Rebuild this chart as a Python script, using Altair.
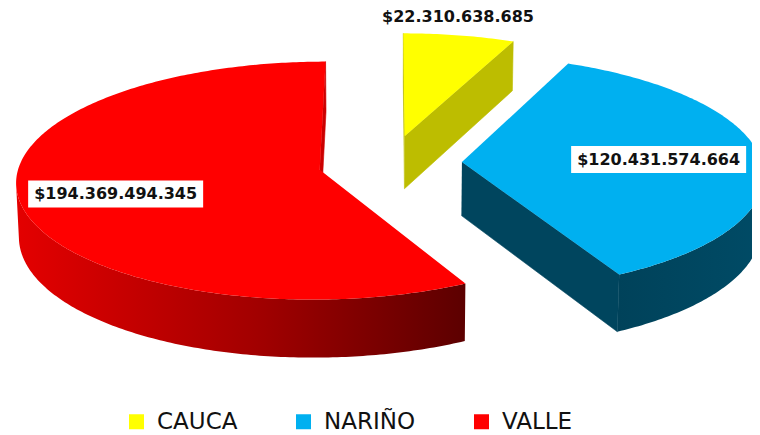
import altair as alt
import numpy as np
import pandas as pd

# ---------------- data ----------------
categories = ["CAUCA", "NARIÑO", "VALLE"]
values = [22310638685, 120431574664, 194369494345]

# ---------------- style ----------------
top_colors = ["#FFFF00", "#00B0F0", "#FF0000"]
face_colors = ["#BDBD00", "#00455E", "#CC0000"]
wall_stops = {
    "CAUCA": [(0, "#C4C400"), (1, "#A8A800")],
    "NARIÑO": [(0, "#00425A"), (1, "#004B66")],
    "VALLE": [(0, "#E40000"), (0.55, "#A00000"), (1, "#5C0000")],
}
label_pos = {"CAUCA": (1.195, 0.417), "NARIÑO": (0.658, 0.5), "VALLE": (0.69, 0.484)}
BOX_W, BOX_H = 175, 27

# 3D view parameters (perspective pie)
F = 3040.0
DIST = 10.13
PHI = np.radians(22.9)
OX, OY = 390.0, 163.0
EXPLODE = 0.24
THICK = 0.195
S, C = np.sin(PHI), np.cos(PHI)
CAM = np.array([0.0, DIST * S, DIST * C])


def project(X, Y, Z):
    dep = DIST - Y * S - Z * C
    return OX + F * X / dep, OY - F * (Y * C - Z * S) / dep


def rim(A, a, Y):
    return np.array([A[0] + np.sin(a), Y, A[2] - np.cos(a)])


frac = np.array(values, dtype=float) / float(sum(values))
ends = np.cumsum(frac) * 2 * np.pi
starts = ends - frac * 2 * np.pi

top_rows, face_rows, wall_dfs, lab_rows = [], [], {}, []
for k, cat in enumerate(categories):
    a1, a2 = starts[k], ends[k]
    b = (a1 + a2) / 2
    A = np.array([EXPLODE * np.sin(b), 0.0, -EXPLODE * np.cos(b)])
    n = max(16, int(np.degrees(a2 - a1) / 0.75))
    angs = np.linspace(a1, a2, n)

    # top face
    pts = [A.copy()] + [rim(A, a, 0.0) for a in angs]
    for i, P in enumerate(pts):
        sx, sy = project(*P)
        top_rows.append(dict(cat=cat, i=i, x=sx, y=sy))

    # outer curved wall (visible part only)
    vis = []
    for a in angs:
        P = rim(A, a, -THICK / 2)
        nrm = np.array([np.sin(a), 0.0, -np.cos(a)])
        vis.append(np.dot(CAM - P, nrm) > 0)
    va = angs[np.array(vis)]
    if len(va) > 1:
        wp = [rim(A, a, 0.0) for a in va] + [rim(A, a, -THICK) for a in va[::-1]]
        rows = []
        for i, P in enumerate(wp):
            sx, sy = project(*P)
            rows.append(dict(i=i, x=sx, y=sy))
        wall_dfs[cat] = pd.DataFrame(rows)

    # radial cut faces
    for name, a, nrm in [
        ("s", a1, np.array([-np.cos(a1), 0.0, -np.sin(a1)])),
        ("e", a2, np.array([np.cos(a2), 0.0, np.sin(a2)])),
    ]:
        mid = A + np.array([0.0, -THICK / 2, 0.0])
        if np.dot(CAM - mid, nrm) > 0:
            fp = [A.copy(), rim(A, a, 0.0), rim(A, a, -THICK), A + np.array([0.0, -THICK, 0.0])]
            for i, P in enumerate(fp):
                sx, sy = project(*P)
                face_rows.append(dict(poly=cat + name, shade=face_colors[k], i=i, x=sx, y=sy))

    # data label
    r, t = label_pos[cat]
    la = a1 + t * (a2 - a1)
    lx, ly = project(A[0] + r * np.sin(la), 0.0, A[2] - r * np.cos(la))
    txt = "$" + f"{values[k]:,}".replace(",", ".")
    lab_rows.append(dict(cat=cat, label=txt, lx=lx, ly=ly,
                         bx1=lx - BOX_W / 2, bx2=lx + BOX_W / 2,
                         by1=ly - BOX_H / 2, by2=ly + BOX_H / 2))

top_df = pd.DataFrame(top_rows)
face_df = pd.DataFrame(face_rows)
lab_df = pd.DataFrame(lab_rows)

xs = alt.Scale(domain=[8, 752], nice=False, zero=False)
ys = alt.Scale(domain=[8, 435], nice=False, zero=False, reverse=True)

layers = []
for cat, df in wall_dfs.items():
    grad = alt.LinearGradient(
        gradient="linear",
        stops=[alt.GradientStop(offset=o, color=c) for o, c in wall_stops[cat]],
        x1=0, x2=1, y1=0, y2=0,
    )
    layers.append(
        alt.Chart(df).mark_line(fill=grad, strokeWidth=0).encode(
            x=alt.X("x:Q", scale=xs, axis=None),
            y=alt.Y("y:Q", scale=ys, axis=None),
            order=alt.Order("i:Q"),
        )
    )

faces = alt.Chart(face_df).mark_line(strokeWidth=0.6).encode(
    x=alt.X("x:Q", scale=xs, axis=None),
    y=alt.Y("y:Q", scale=ys, axis=None),
    order=alt.Order("i:Q"),
    detail="poly:N",
    fill=alt.Fill("shade:N", scale=None),
    stroke=alt.Stroke("shade:N", scale=None),
)
layers.append(faces)

tops = alt.Chart(top_df).mark_line(strokeWidth=0).encode(
    x=alt.X("x:Q", scale=xs, axis=None),
    y=alt.Y("y:Q", scale=ys, axis=None),
    order=alt.Order("i:Q"),
    detail="cat:N",
    fill=alt.Fill(
        "cat:N",
        scale=alt.Scale(domain=categories, range=top_colors),
        legend=alt.Legend(
            orient="none", legendX=117, legendY=402, direction="horizontal",
            title=None, symbolType="square", symbolSize=225, symbolStrokeWidth=0,
            symbolOpacity=1, labelFont="DejaVu Sans", labelFontSize=23,
            labelColor="#111111", columnPadding=54, labelOffset=9,
        ),
    ),
)
layers.append(tops)

boxes = alt.Chart(lab_df).mark_rect(color="white").encode(
    x=alt.X("bx1:Q", scale=xs, axis=None), x2="bx2:Q",
    y=alt.Y("by1:Q", scale=ys, axis=None), y2="by2:Q",
)
texts = alt.Chart(lab_df).mark_text(
    font="DejaVu Sans", fontWeight="bold", fontSize=16, color="#111111",
    align="center", baseline="middle",
).encode(
    x=alt.X("lx:Q", scale=xs, axis=None),
    y=alt.Y("ly:Q", scale=ys, axis=None),
    text="label:N",
)
layers += [boxes, texts]

chart = alt.layer(*layers).properties(
    width=744, height=427, padding=0,
    autosize=alt.AutoSizeParams(type="none"),
).configure_view(strokeWidth=0)

chart.save("out.html", embed_options={"renderer": "svg", "actions": False})
